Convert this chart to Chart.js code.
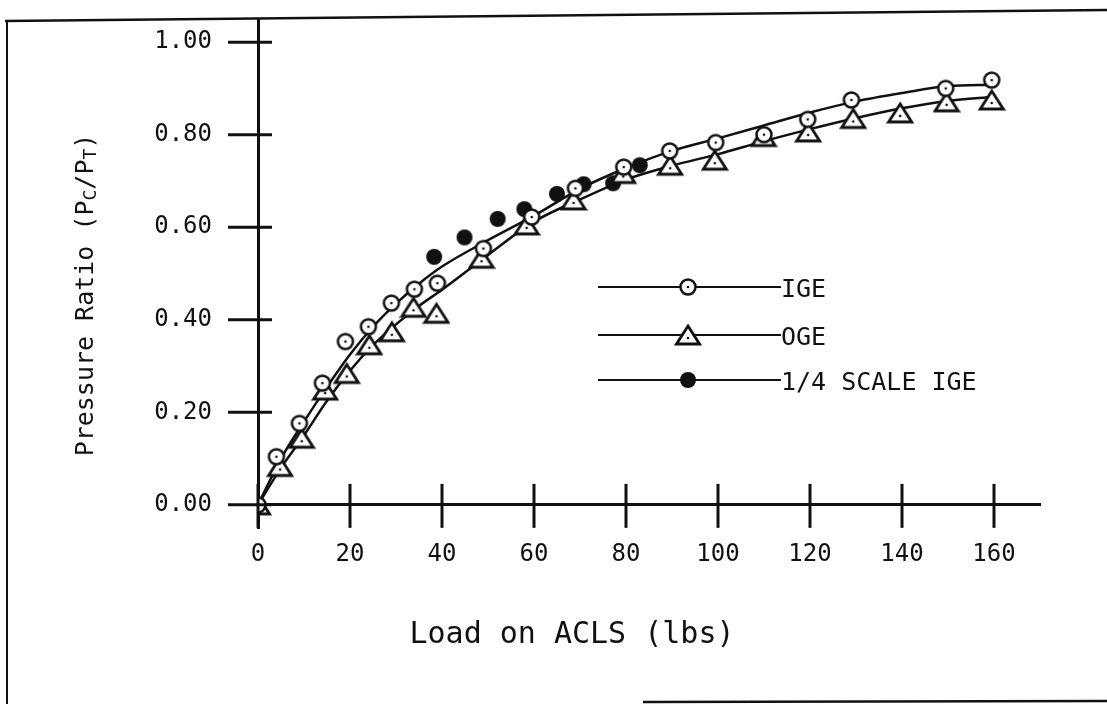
<!DOCTYPE html>
<html>
<head>
<meta charset="utf-8">
<script src="https://cdn.jsdelivr.net/npm/chart.js@4.4.1/dist/chart.umd.min.js"></script>
<style>
body { margin: 0; background: #fff; }
canvas { display: block; }
</style>
</head>
<body>
<canvas id="chart" width="1107" height="704"></canvas>
<script>
const INK = '#111';
const MONO = '"DejaVu Sans Mono", "Liberation Mono", monospace';

const x_ticks = [0, 20, 40, 60, 80, 100, 120, 140, 160];
const y_ticks = [0, 0.2, 0.4, 0.6, 0.8, 1.0];

// IGE (open circles)
const ige_load  = [0, 4, 9, 14, 19, 24, 29, 34, 39, 49, 59.5, 69, 79.5, 89.5, 99.5, 110, 119.5, 129, 149.5, 159.5];
const ige_ratio = [0, 0.104, 0.176, 0.263, 0.353, 0.385, 0.436, 0.466, 0.479, 0.554, 0.622, 0.684, 0.73, 0.765, 0.783, 0.80, 0.833, 0.875, 0.90, 0.918];

// OGE (open triangles)
const oge_load  = [0, 4.8, 9.5, 14.6, 19.3, 24.2, 29.1, 33.8, 38.8, 48.6, 58.4, 68.6, 79.4, 89.6, 99.3, 109.9, 119.6, 129.4, 139.6, 149.7, 159.5];
const oge_ratio = [0, 0.083, 0.144, 0.248, 0.284, 0.346, 0.374, 0.427, 0.414, 0.533, 0.605, 0.659, 0.716, 0.734, 0.745, 0.796, 0.806, 0.835, 0.847, 0.871, 0.875];

// 1/4 scale IGE (filled circles)
const quarter_load  = [38.3, 44.9, 52.1, 57.9, 65, 70.8, 77.2, 83];
const quarter_ratio = [0.536, 0.578, 0.618, 0.639, 0.672, 0.693, 0.695, 0.734];

// faired curves
const fit_load = [0, 5, 10, 15, 20, 25, 30, 35, 40, 50, 60, 70, 80, 90, 100, 110, 120, 130, 140, 150, 160];
const ige_fit  = [0, 0.10, 0.18, 0.255, 0.325, 0.385, 0.435, 0.478, 0.515, 0.572, 0.625, 0.683, 0.728, 0.765, 0.792, 0.82, 0.848, 0.872, 0.89, 0.905, 0.908];
const oge_fit  = [0, 0.08, 0.15, 0.225, 0.29, 0.345, 0.39, 0.43, 0.465, 0.54, 0.612, 0.66, 0.703, 0.733, 0.758, 0.786, 0.812, 0.836, 0.857, 0.873, 0.882];

function pairs(xs, ys) {
  return xs.map((x, i) => ({x: x, y: ys[i]}));
}

function make_marker(kind) {
  const c = document.createElement('canvas');
  // size first: resizing a canvas resets its context state
  if (kind === 'triangle') { c.width = 28; c.height = 24; }
  else { c.width = 22; c.height = 22; }
  const ctx = c.getContext('2d');
  ctx.strokeStyle = INK;
  ctx.fillStyle = '#fff';
  if (kind === 'circle') {
    ctx.lineWidth = 2.5;
    ctx.beginPath(); ctx.arc(11, 11, 7.5, 0, Math.PI * 2); ctx.fill(); ctx.stroke();
    ctx.fillStyle = INK;
    ctx.beginPath(); ctx.arc(11, 11, 1.3, 0, Math.PI * 2); ctx.fill();
  } else if (kind === 'triangle') {
    ctx.lineWidth = 2.8;
    ctx.beginPath(); ctx.moveTo(14, 3); ctx.lineTo(25.5, 21); ctx.lineTo(2.5, 21); ctx.closePath();
    ctx.fill(); ctx.stroke();
    ctx.fillStyle = INK;
    ctx.beginPath(); ctx.arc(14, 15, 1.3, 0, Math.PI * 2); ctx.fill();
  } else {
    ctx.fillStyle = INK;
    ctx.beginPath(); ctx.arc(11, 11, 8, 0, Math.PI * 2); ctx.fill();
  }
  return c;
}

const circle_img = make_marker('circle');
const triangle_img = make_marker('triangle');
const dot_img = make_marker('dot');

const decorations = {
  id: 'decorations',
  beforeDraw(chart) {
    const ctx = chart.ctx;
    ctx.save();
    ctx.strokeStyle = INK;
    ctx.lineWidth = 2.5;
    ctx.beginPath(); ctx.moveTo(5, 21); ctx.lineTo(1107, 10); ctx.stroke();
    ctx.lineWidth = 2;
    ctx.beginPath(); ctx.moveTo(7, 21); ctx.lineTo(7, 704); ctx.stroke();
    ctx.lineWidth = 2.5;
    ctx.beginPath(); ctx.moveTo(643, 702); ctx.lineTo(1107, 701); ctx.stroke();
    ctx.restore();
  },
  afterDraw(chart) {
    const ctx = chart.ctx;
    const xs = chart.scales.x, ys = chart.scales.y;
    const x0 = xs.getPixelForValue(0), y0 = ys.getPixelForValue(0);
    ctx.save();
    ctx.strokeStyle = INK;
    ctx.lineWidth = 3;
    for (const v of x_ticks) {
      const px = xs.getPixelForValue(v);
      ctx.beginPath(); ctx.moveTo(px, y0 - 21); ctx.lineTo(px, y0 + 23); ctx.stroke();
    }
    for (const v of y_ticks) {
      const py = ys.getPixelForValue(v);
      ctx.beginPath(); ctx.moveTo(x0 - 30, py); ctx.lineTo(x0 + 14, py); ctx.stroke();
    }

    // legend
    const rows = [
      {y: 287, img: circle_img, text: 'IGE'},
      {y: 335, img: triangle_img, text: 'OGE'},
      {y: 380, img: dot_img, text: '1/4 SCALE IGE'}
    ];
    ctx.font = '25px ' + MONO;
    ctx.textBaseline = 'middle';
    ctx.fillStyle = INK;
    for (const r of rows) {
      ctx.lineWidth = 2;
      ctx.beginPath(); ctx.moveTo(598, r.y); ctx.lineTo(781, r.y); ctx.stroke();
      ctx.drawImage(r.img, 688 - r.img.width / 2, r.y - r.img.height / 2);
      ctx.fillText(r.text, 781, r.y + 3);
    }

    // x title
    ctx.font = '30px ' + MONO;
    ctx.textAlign = 'center';
    ctx.textBaseline = 'alphabetic';
    ctx.fillText('Load on ACLS (lbs)', 572, 643);

    // y title with subscripts
    ctx.translate(93, 295);
    ctx.rotate(-Math.PI / 2);
    const parts = [
      ['Pressure Ratio (P', 25, 0], ['C', 18, 3], ['/P', 25, 0], ['T', 18, 3], [')', 25, 0]
    ];
    ctx.textAlign = 'left';
    let total = 0;
    for (const p of parts) { ctx.font = p[1] + 'px ' + MONO; total += ctx.measureText(p[0]).width; }
    let cx = -total / 2;
    for (const p of parts) {
      ctx.font = p[1] + 'px ' + MONO;
      ctx.fillText(p[0], cx, p[2]);
      cx += ctx.measureText(p[0]).width;
    }
    ctx.restore();
  }
};

new Chart(document.getElementById('chart'), {
  type: 'scatter',
  data: {
    datasets: [
      {label: 'IGE', data: pairs(ige_load, ige_ratio), pointStyle: circle_img, showLine: false, order: 0},
      {label: 'OGE', data: pairs(oge_load, oge_ratio), pointStyle: triangle_img, showLine: false, order: 0},
      {label: '1/4 SCALE IGE', data: pairs(quarter_load, quarter_ratio), pointStyle: dot_img, showLine: false, order: 0},
      {label: 'IGE fit', data: pairs(fit_load, ige_fit), showLine: true, pointRadius: 0, borderColor: INK, borderWidth: 2.5, cubicInterpolationMode: 'monotone', order: 1},
      {label: 'OGE fit', data: pairs(fit_load, oge_fit), showLine: true, pointRadius: 0, borderColor: INK, borderWidth: 2.5, cubicInterpolationMode: 'monotone', order: 1}
    ]
  },
  options: {
    responsive: false,
    animation: false,
    layout: {padding: {left: 0, right: 67, top: 19, bottom: 176}},
    plugins: {legend: {display: false}, tooltip: {enabled: false}},
    scales: {
      x: {
        type: 'linear',
        position: {y: 0},
        min: 0, max: 170,
        afterBuildTicks: s => { s.ticks = x_ticks.map(v => ({value: v})); },
        afterFit: s => { s.paddingLeft = 0; s.paddingRight = 0; },
        grid: {display: false, drawTicks: false},
        border: {display: true, color: INK, width: 3},
        ticks: {color: INK, font: {family: MONO, size: 24}, padding: 36, maxRotation: 0}
      },
      y: {
        type: 'linear',
        position: 'left',
        min: -0.05, max: 1.05,
        afterBuildTicks: s => { s.ticks = y_ticks.map(v => ({value: v})); },
        afterFit: s => { s.width = 258; s.paddingTop = 0; s.paddingBottom = 0; },
        grid: {display: false, drawTicks: false},
        border: {display: true, color: INK, width: 3},
        ticks: {color: INK, font: {family: MONO, size: 24}, padding: 46, callback: v => v.toFixed(2)}
      }
    }
  },
  plugins: [decorations]
});
</script>
</body>
</html>
